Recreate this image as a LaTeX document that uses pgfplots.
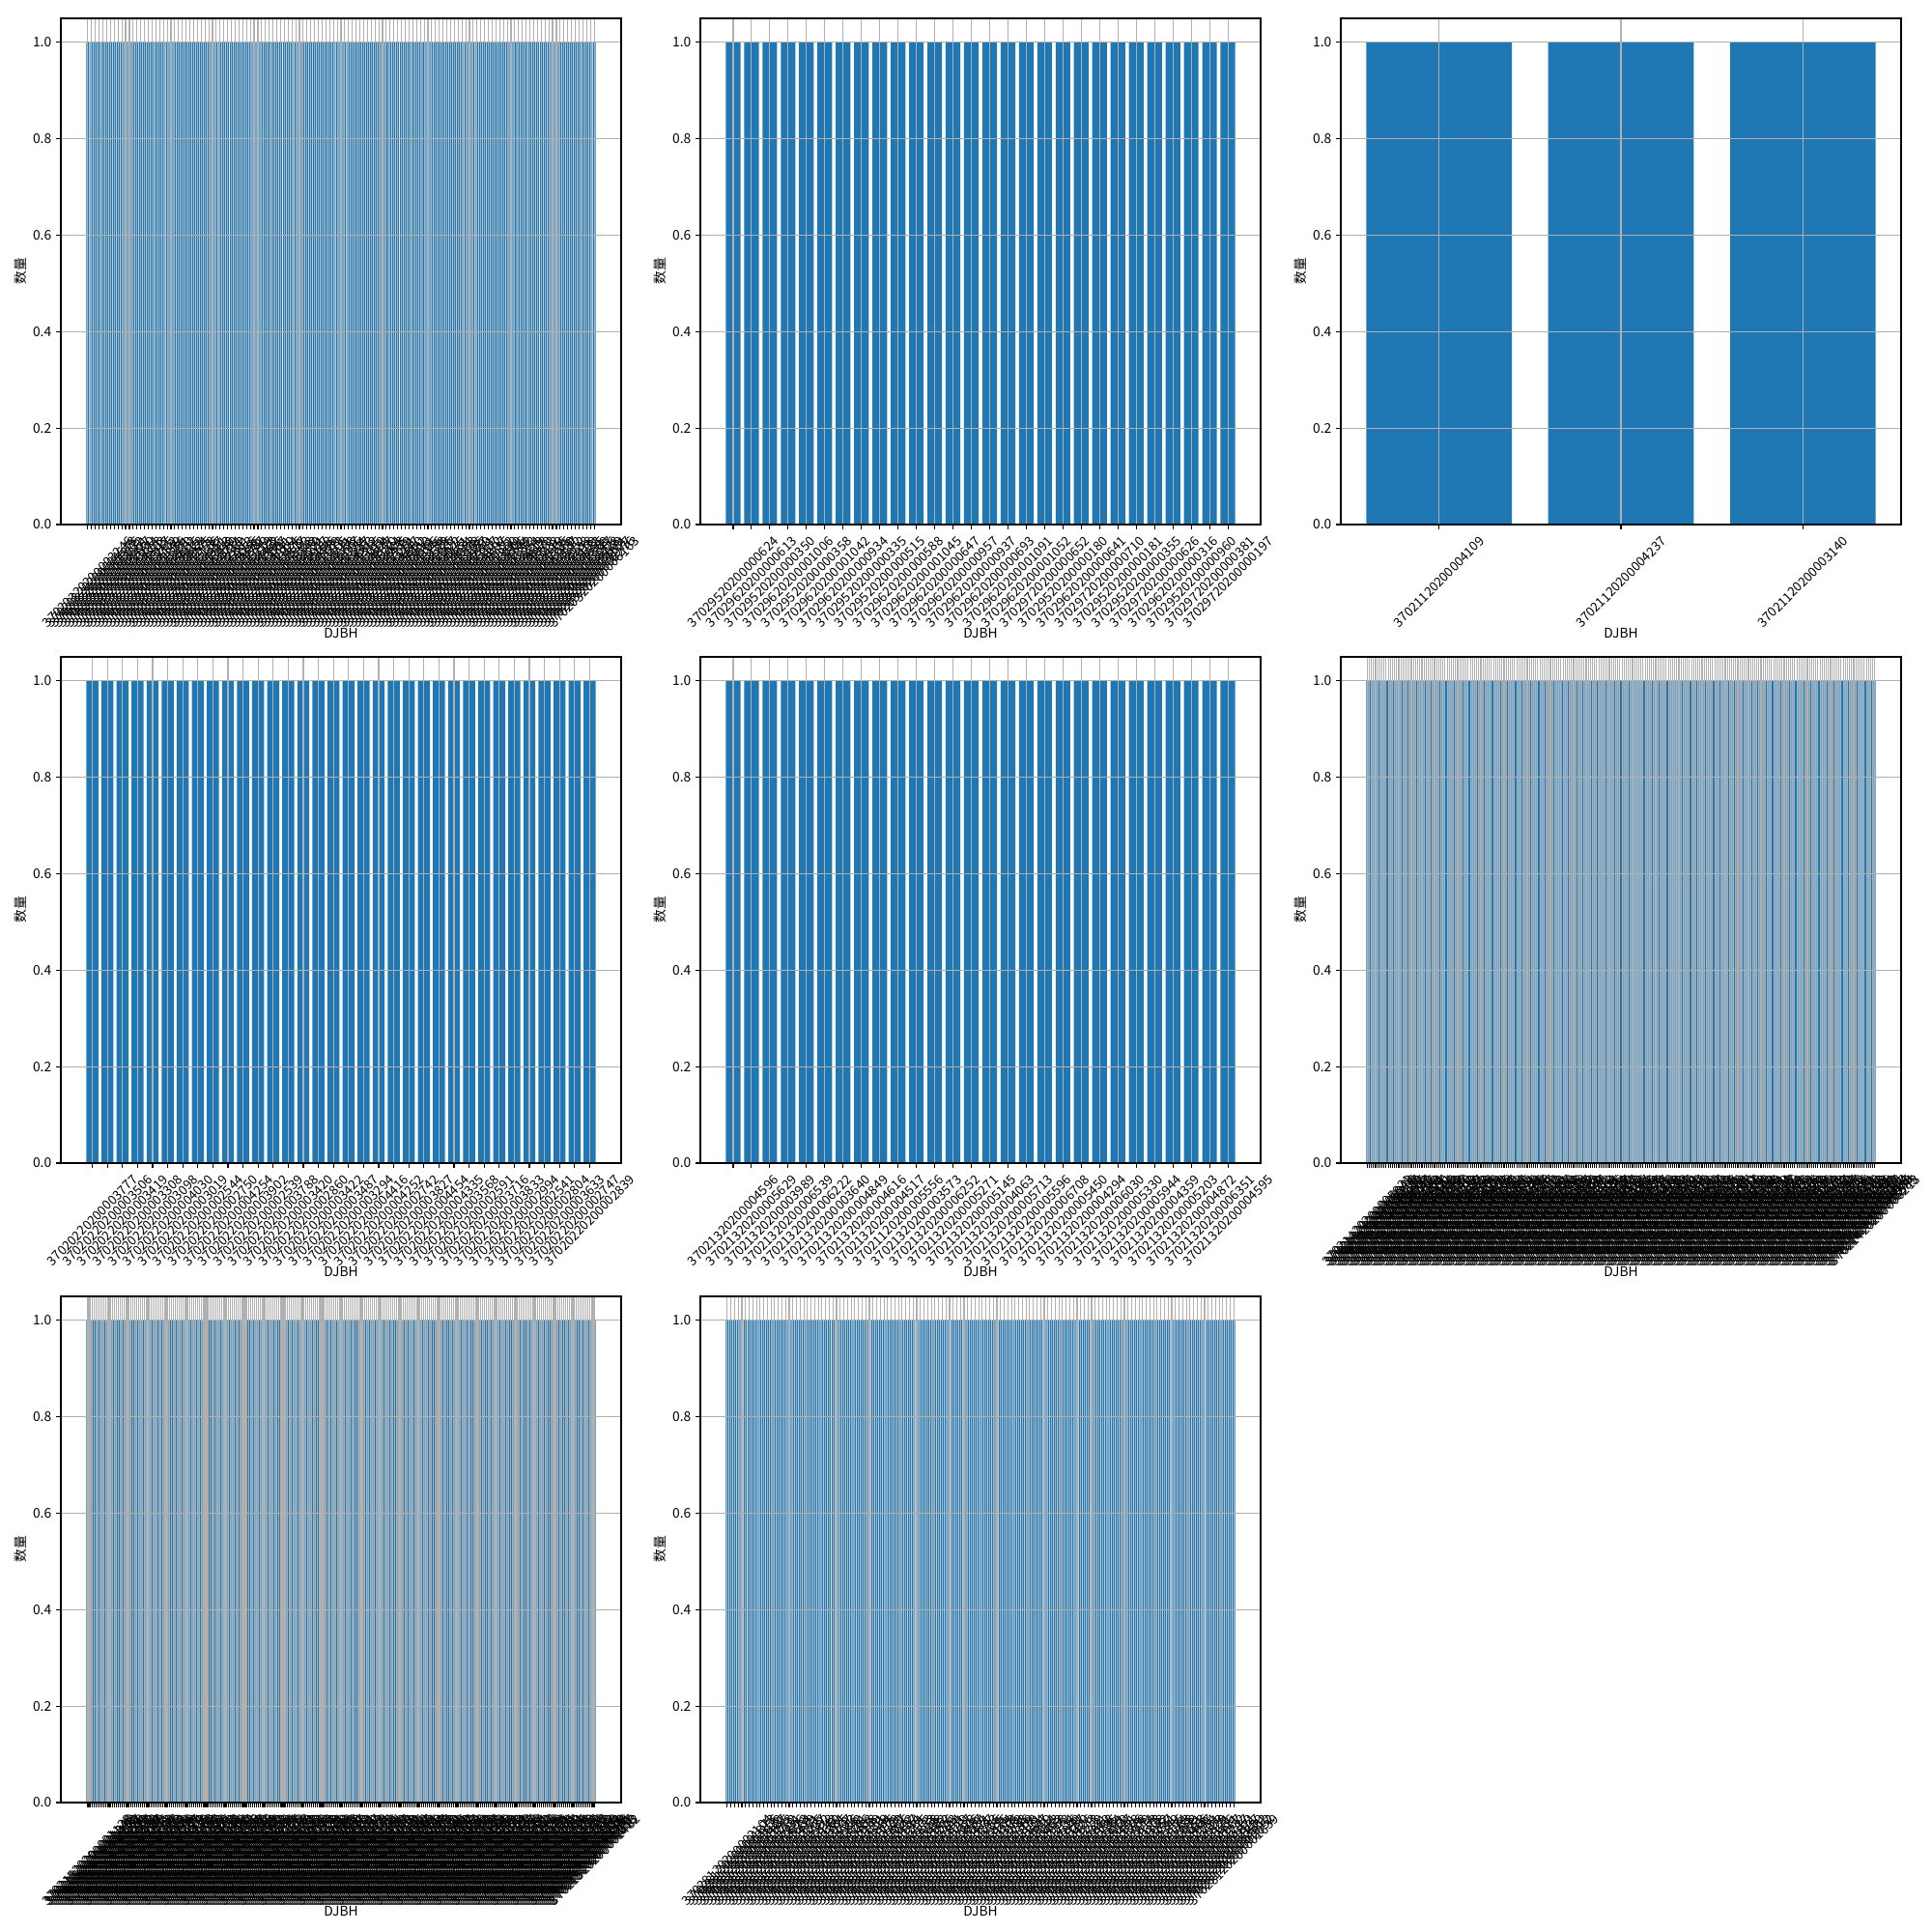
\documentclass[border=0pt]{standalone}
\usepackage{fontspec}
\setmainfont{Noto Sans CJK SC}
\usepackage{pgfplots}
\pgfplotsset{compat=1.18}
\definecolor{mplblue}{HTML}{1F77B4}
\definecolor{mplgrid}{HTML}{B0B0B0}
\def\pa{3702032020000}
\def\pf{3702142020000}
\def\pg{3702152020000}
\def\ph{3702812020000}
\pgfplotsset{
  mpl/.style={
    scale only axis, width=5.8in, height=5.24in,
    ymin=0, ymax=1.05,
    ytick={0,0.2,0.4,0.6,0.8,1.0},
    yticklabels={0.0,0.2,0.4,0.6,0.8,1.0},
    tick align=outside, tick pos=left,
    major tick length=3.5pt,
    tick style={black, line width=0.8pt},
    axis line style={line width=0.8pt},
    xmajorgrids, ymajorgrids,
    major grid style={color=mplgrid, line width=0.8pt},
    axis on top,
    xtick=data,
    ticklabel style={font=\fontsize{10}{12}\selectfont},
    xticklabel style={yshift=-39.5pt, rotate=45, anchor=center, font=\fontsize{9.6}{11}\selectfont},
    every axis x label/.style={at={(axis description cs:0.5,0)}, yshift=-81pt, anchor=center, font=\fontsize{10}{12}\selectfont},
    every axis y label/.style={at={(axis description cs:0,0.5)}, xshift=-30.4pt, rotate=90, anchor=center, font=\fontsize{10}{12}\selectfont},
    xlabel={DJBH}, ylabel={数量},
  },
  mplbar/.style={ybar, bar width=0.8, bar shift=0pt, fill=mplblue, draw=none},
}
\begin{document}
\begin{tikzpicture}
\path[use as bounding box] (0,0) rectangle (20in,20in);
% ---------- 1 ----------
\begin{axis}[mpl, at={(0.63in,14.57in)}, anchor=south west, xmin=-7.14, xmax=141.14,
 xticklabels={\pa3246,\pa4518,\pa2975,\pa5032,\pa3861,\pa4427,\pa2690,\pa5174,\pa3358,\pa4803,
\pa2917,\pa5265,\pa3702,\pa4149,\pa2836,\pa5391,\pa3470,\pa4682,\pa3015,\pa5528,
\pa3924,\pa4275,\pa2758,\pa5106,\pa3637,\pa4951,\pa2863,\pa5440,\pa3189,\pa4714,
\pa3562,\pa2881,\pa5213,\pa4036,\pa3395,\pa4887,\pa2740,\pa5319,\pa3628,\pa4452,
\pa2996,\pa5087,\pa3741,\pa4160,\pa2824,\pa5476,\pa3317,\pa4593,\pa3058,\pa5342,
\pa3839,\pa4221,\pa2917,\pa5158,\pa3486,\pa4769,\pa2673,\pa5405,\pa3211,\pa4538,
\pa3777,\pa4096,\pa2854,\pa5287,\pa3563,\pa4312,\pa2785,\pa5019,\pa3694,\pa4847,
\pa3120,\pa5364,\pa3908,\pa4435,\pa2719,\pa5251,\pa3347,\pa4660,\pa3082,\pa5513,
\pa3861,\pa4195,\pa2946,\pa5138,\pa3529,\pa4726,\pa2807,\pa5422,\pa3275,\pa4581,
\pa3634,\pa4003,\pa2898,\pa5196,\pa3457,\pa4859,\pa2761,\pa5307,\pa3172,\pa4497,
\pa3785,\pa4122,\pa2930,\pa5069,\pa3606,\pa4744,\pa2842,\pa5383,\pa3254,\pa4619,
\pa3518,\pa4070,\pa2893,\pa5232,\pa3419,\pa4906,\pa2735,\pa5460,\pa3137,\pa4572,
\pa3952,\pa4238,\pa2818,\pa5109,\pa3583,\pa4695,\pa2869,\pa5347,\pa3206,\pa4428,
\pa3669,\pa4151,\pa2977,\pa5276,\pa6163}]
\addplot[mplbar] coordinates {
(0,1)(1,1)(2,1)(3,1)(4,1)(5,1)(6,1)(7,1)(8,1)(9,1)
(10,1)(11,1)(12,1)(13,1)(14,1)(15,1)(16,1)(17,1)(18,1)(19,1)
(20,1)(21,1)(22,1)(23,1)(24,1)(25,1)(26,1)(27,1)(28,1)(29,1)
(30,1)(31,1)(32,1)(33,1)(34,1)(35,1)(36,1)(37,1)(38,1)(39,1)
(40,1)(41,1)(42,1)(43,1)(44,1)(45,1)(46,1)(47,1)(48,1)(49,1)
(50,1)(51,1)(52,1)(53,1)(54,1)(55,1)(56,1)(57,1)(58,1)(59,1)
(60,1)(61,1)(62,1)(63,1)(64,1)(65,1)(66,1)(67,1)(68,1)(69,1)
(70,1)(71,1)(72,1)(73,1)(74,1)(75,1)(76,1)(77,1)(78,1)(79,1)
(80,1)(81,1)(82,1)(83,1)(84,1)(85,1)(86,1)(87,1)(88,1)(89,1)
(90,1)(91,1)(92,1)(93,1)(94,1)(95,1)(96,1)(97,1)(98,1)(99,1)
(100,1)(101,1)(102,1)(103,1)(104,1)(105,1)(106,1)(107,1)(108,1)(109,1)
(110,1)(111,1)(112,1)(113,1)(114,1)(115,1)(116,1)(117,1)(118,1)(119,1)
(120,1)(121,1)(122,1)(123,1)(124,1)(125,1)(126,1)(127,1)(128,1)(129,1)
(130,1)(131,1)(132,1)(133,1)(134,1)};
\end{axis}
% ---------- 2 ----------
\begin{axis}[mpl, at={(7.25in,14.57in)}, anchor=south west, xmin=-1.79, xmax=28.79,
 xticklabels={37029520200000624,37029620200000613,37029520200000350,37029620200001006,37029520200000358,37029620200001042,37029620200000934,37029520200000335,37029520200000515,37029620200000588,37029620200001045,37029620200000647,37029620200000957,37029620200000937,37029620200000693,37029620200001091,37029620200001052,37029720200000652,37029520200000180,37029620200000641,37029720200000710,37029520200000181,37029520200000355,37029720200000626,37029620200000316,37029520200000960,37029720200000381,37029720200000197}]
\addplot[mplbar] coordinates {
(0,1)(1,1)(2,1)(3,1)(4,1)(5,1)(6,1)(7,1)(8,1)(9,1)
(10,1)(11,1)(12,1)(13,1)(14,1)(15,1)(16,1)(17,1)(18,1)(19,1)
(20,1)(21,1)(22,1)(23,1)(24,1)(25,1)(26,1)(27,1)};
\end{axis}
% ---------- 3 ----------
\begin{axis}[mpl, at={(13.88in,14.57in)}, anchor=south west, xmin=-0.54, xmax=2.54,
 xticklabels={37021120200004109,37021120200004237,37021120200003140}]
\addplot[mplbar] coordinates {(0,1)(1,1)(2,1)};
\end{axis}
% ---------- 4 ----------
\begin{axis}[mpl, at={(0.63in,7.96in)}, anchor=south west, xmin=-2.09, xmax=35.09,
 xticklabels={37020220200003777,37020220200003506,37020220200003419,37020220200003308,37020220200003098,37020220200004030,37020220200003019,37020220200002544,37020220200002750,37020220200004254,37020220200003902,37020220200002539,37020220200003788,37020220200003420,37020220200002860,37020220200003422,37020220200003487,37020220200003294,37020220200004416,37020220200004252,37020220200002742,37020220200003827,37020220200004454,37020220200004335,37020220200003568,37020220200002591,37020220200003716,37020220200003833,37020220200002994,37020220200002541,37020220200002804,37020220200003633,37020220200002747,37020220200002839}]
\addplot[mplbar] coordinates {
(0,1)(1,1)(2,1)(3,1)(4,1)(5,1)(6,1)(7,1)(8,1)(9,1)
(10,1)(11,1)(12,1)(13,1)(14,1)(15,1)(16,1)(17,1)(18,1)(19,1)
(20,1)(21,1)(22,1)(23,1)(24,1)(25,1)(26,1)(27,1)(28,1)(29,1)
(30,1)(31,1)(32,1)(33,1)};
\end{axis}
% ---------- 5 ----------
\begin{axis}[mpl, at={(7.25in,7.96in)}, anchor=south west, xmin=-1.79, xmax=28.79,
 xticklabels={37021320200004596,37021320200005629,37021320200003989,37021320200006539,37021320200006222,37021320200003640,37021320200004849,37021320200004616,37021320200004517,37021120200005556,37021320200003573,37021320200006252,37021320200005271,37021320200005145,37021320200004063,37021320200005713,37021320200005596,37021320200006708,37021320200005450,37021320200004294,37021320200006030,37021320200005330,37021320200005944,37021320200004359,37021320200005203,37021320200004872,37021320200006351,37021320200004595}]
\addplot[mplbar] coordinates {
(0,1)(1,1)(2,1)(3,1)(4,1)(5,1)(6,1)(7,1)(8,1)(9,1)
(10,1)(11,1)(12,1)(13,1)(14,1)(15,1)(16,1)(17,1)(18,1)(19,1)
(20,1)(21,1)(22,1)(23,1)(24,1)(25,1)(26,1)(27,1)};
\end{axis}
% ---------- 6 ----------
\begin{axis}[mpl, at={(13.88in,7.96in)}, anchor=south west, xmin=-12.49, xmax=253.49,
 xticklabels={\pf5821,\pf6043,\pf5376,\pf6298,\pf5517,\pf6180,\pf5432,\pf6365,\pf5609,\pf6027,
\pf5748,\pf6412,\pf5295,\pf6139,\pf5863,\pf6254,\pf5471,\pf6087,\pf5930,\pf6321,
\pf5384,\pf6196,\pf5652,\pf6473,\pf5219,\pf6058,\pf5795,\pf6337,\pf5546,\pf6112,
\pf5903,\pf6279,\pf5338,\pf6450,\pf5687,\pf6021,\pf5462,\pf6383,\pf5759,\pf6146,
\pf5274,\pf6305,\pf5618,\pf6069,\pf5891,\pf6428,\pf5403,\pf6235,\pf5566,\pf6174,
\pf5837,\pf6392,\pf5251,\pf6013,\pf5704,\pf6287,\pf5489,\pf6156,\pf5972,\pf6341,
\pf5325,\pf6208,\pf5673,\pf6035,\pf5458,\pf6497,\pf5786,\pf6124,\pf5597,\pf6269,
\pf5916,\pf6053,\pf5362,\pf6418,\pf5641,\pf6181,\pf5437,\pf6326,\pf5808,\pf6092,
\pf5283,\pf6245,\pf5725,\pf6376,\pf5514,\pf6107,\pf5869,\pf6438,\pf5396,\pf6163,
\pf5652,\pf6019,\pf5947,\pf6295,\pf5471,\pf6132,\pf5773,\pf6404,\pf5308,\pf6221,
\pf5585,\pf6076,\pf5834,\pf6359,\pf5427,\pf6190,\pf5698,\pf6467,\pf5263,\pf6048,
\pf5912,\pf6313,\pf5546,\pf6137,\pf5781,\pf6252,\pf5405,\pf6089,\pf5629,\pf6386,
\pf5870,\pf6024,\pf5347,\pf6271,\pf5716,\pf6155,\pf5493,\pf6429,\pf5958,\pf6102,
\pf5239,\pf6336,\pf5664,\pf6068,\pf5827,\pf6214,\pf5442,\pf6391,\pf5605,\pf6177,
\pf5893,\pf6045,\pf5318,\pf6283,\pf5751,\pf6129,\pf5486,\pf6452,\pf5937,\pf6006,
\pf5272,\pf6348,\pf5689,\pf6093,\pf5815,\pf6236,\pf5431,\pf6375,\pf5568,\pf6118,
\pf5344,\pf6261,\pf5707,\pf6040,\pf5982,\pf6317,\pf5415,\pf6188,\pf5633,\pf6474,
\pf5226,\pf6082,\pf5859,\pf6303,\pf5498,\pf6145,\pf5762,\pf6421,\pf5371,\pf6029,
\pf5924,\pf6268,\pf5587,\pf6197,\pf5806,\pf6354,\pf5449,\pf6061,\pf5678,\pf6486,
\pf5293,\pf6228,\pf5731,\pf6115,\pf5965,\pf6340,\pf5522,\pf6073,\pf5849,\pf6409,
\pf5316,\pf6172,\pf5694,\pf6259,\pf5478,\pf6011,\pf5903,\pf6362,\pf5557,\pf6140,
\pf5788,\pf6433,\pf5247,\pf6097,\pf5875,\pf6285,\pf5412,\pf6206,\pf5645,\pf6379,
\pf5331,\pf6051,\pf5956,\pf6318,\pf5503,\pf6163,\pf5719,\pf6444,\pf5286,\pf6084,
\pf5842,\pf6243,\pf5467,\pf6126,\pf5611,\pf6397,\pf5354,\pf6037,\pf5989,\pf6274,
\pf5535,\pf6213}]
\addplot[mplbar] coordinates {
(0,1)(1,1)(2,1)(3,1)(4,1)(5,1)(6,1)(7,1)(8,1)(9,1)
(10,1)(11,1)(12,1)(13,1)(14,1)(15,1)(16,1)(17,1)(18,1)(19,1)
(20,1)(21,1)(22,1)(23,1)(24,1)(25,1)(26,1)(27,1)(28,1)(29,1)
(30,1)(31,1)(32,1)(33,1)(34,1)(35,1)(36,1)(37,1)(38,1)(39,1)
(40,1)(41,1)(42,1)(43,1)(44,1)(45,1)(46,1)(47,1)(48,1)(49,1)
(50,1)(51,1)(52,1)(53,1)(54,1)(55,1)(56,1)(57,1)(58,1)(59,1)
(60,1)(61,1)(62,1)(63,1)(64,1)(65,1)(66,1)(67,1)(68,1)(69,1)
(70,1)(71,1)(72,1)(73,1)(74,1)(75,1)(76,1)(77,1)(78,1)(79,1)
(80,1)(81,1)(82,1)(83,1)(84,1)(85,1)(86,1)(87,1)(88,1)(89,1)
(90,1)(91,1)(92,1)(93,1)(94,1)(95,1)(96,1)(97,1)(98,1)(99,1)
(100,1)(101,1)(102,1)(103,1)(104,1)(105,1)(106,1)(107,1)(108,1)(109,1)
(110,1)(111,1)(112,1)(113,1)(114,1)(115,1)(116,1)(117,1)(118,1)(119,1)
(120,1)(121,1)(122,1)(123,1)(124,1)(125,1)(126,1)(127,1)(128,1)(129,1)
(130,1)(131,1)(132,1)(133,1)(134,1)(135,1)(136,1)(137,1)(138,1)(139,1)
(140,1)(141,1)(142,1)(143,1)(144,1)(145,1)(146,1)(147,1)(148,1)(149,1)
(150,1)(151,1)(152,1)(153,1)(154,1)(155,1)(156,1)(157,1)(158,1)(159,1)
(160,1)(161,1)(162,1)(163,1)(164,1)(165,1)(166,1)(167,1)(168,1)(169,1)
(170,1)(171,1)(172,1)(173,1)(174,1)(175,1)(176,1)(177,1)(178,1)(179,1)
(180,1)(181,1)(182,1)(183,1)(184,1)(185,1)(186,1)(187,1)(188,1)(189,1)
(190,1)(191,1)(192,1)(193,1)(194,1)(195,1)(196,1)(197,1)(198,1)(199,1)
(200,1)(201,1)(202,1)(203,1)(204,1)(205,1)(206,1)(207,1)(208,1)(209,1)
(210,1)(211,1)(212,1)(213,1)(214,1)(215,1)(216,1)(217,1)(218,1)(219,1)
(220,1)(221,1)(222,1)(223,1)(224,1)(225,1)(226,1)(227,1)(228,1)(229,1)
(230,1)(231,1)(232,1)(233,1)(234,1)(235,1)(236,1)(237,1)(238,1)(239,1)
(240,1)(241,1)};
\end{axis}
% ---------- 7 ----------
\begin{axis}[mpl, at={(0.63in,1.34in)}, anchor=south west, xmin=-14.24, xmax=290.24,
 xticklabels={\pg1128,\pg1345,\pg1076,\pg1492,\pg1203,\pg1387,\pg1151,\pg1436,\pg1264,\pg1019,
\pg1318,\pg1457,\pg1092,\pg1233,\pg1376,\pg1140,\pg1419,\pg1287,\pg1055,\pg1362,
\pg1196,\pg1471,\pg1113,\pg1248,\pg1394,\pg1037,\pg1325,\pg1168,\pg1483,\pg1214,
\pg1352,\pg1081,\pg1429,\pg1276,\pg1145,\pg1398,\pg1029,\pg1267,\pg1441,\pg1174,
\pg1309,\pg1063,\pg1415,\pg1239,\pg1186,\pg1467,\pg1102,\pg1334,\pg1257,\pg1048,
\pg1383,\pg1129,\pg1476,\pg1220,\pg1356,\pg1071,\pg1402,\pg1293,\pg1158,\pg1437,
\pg1012,\pg1341,\pg1185,\pg1459,\pg1226,\pg1370,\pg1097,\pg1413,\pg1281,\pg1136,
\pg1395,\pg1054,\pg1328,\pg1207,\pg1488,\pg1162,\pg1347,\pg1085,\pg1424,\pg1253,
\pg1119,\pg1366,\pg1040,\pg1302,\pg1193,\pg1452,\pg1235,\pg1379,\pg1108,\pg1446,
\pg1271,\pg1024,\pg1357,\pg1178,\pg1495,\pg1244,\pg1316,\pg1067,\pg1408,\pg1289,
\pg1151,\pg1432,\pg1033,\pg1323,\pg1212,\pg1474,\pg1105,\pg1388,\pg1260,\pg1046,
\pg1373,\pg1191,\pg1463,\pg1229,\pg1339,\pg1078,\pg1421,\pg1298,\pg1143,\pg1404,
\pg1016,\pg1351,\pg1169,\pg1485,\pg1237,\pg1360,\pg1094,\pg1417,\pg1278,\pg1122,
\pg1392,\pg1058,\pg1331,\pg1201,\pg1479,\pg1157,\pg1344,\pg1089,\pg1428,\pg1265,
\pg1134,\pg1371,\pg1045,\pg1312,\pg1188,\pg1456,\pg1241,\pg1385,\pg1111,\pg1449,
\pg1273,\pg1027,\pg1359,\pg1173,\pg1491,\pg1249,\pg1319,\pg1070,\pg1411,\pg1285,
\pg1131,\pg1396,\pg1052,\pg1337,\pg1215,\pg1469,\pg1098,\pg1381,\pg1256,\pg1039,
\pg1364,\pg1182,\pg1447,\pg1223,\pg1305,\pg1074,\pg1433,\pg1292,\pg1149,\pg1410,
\pg1021,\pg1348,\pg1166,\pg1481,\pg1232,\pg1369,\pg1087,\pg1422,\pg1269,\pg1117,
\pg1389,\pg1061,\pg1336,\pg1198,\pg1472,\pg1154,\pg1342,\pg1083,\pg1430,\pg1258,
\pg1127,\pg1374,\pg1049,\pg1315,\pg1184,\pg1461,\pg1246,\pg1382,\pg1114,\pg1443,
\pg1279,\pg1031,\pg1353,\pg1179,\pg1494,\pg1252,\pg1321,\pg1065,\pg1407,\pg1283,
\pg1147,\pg1438,\pg1036,\pg1326,\pg1217,\pg1478,\pg1101,\pg1391,\pg1262,\pg1043,
\pg1377,\pg1195,\pg1466,\pg1225,\pg1335,\pg1079,\pg1426,\pg1296,\pg1141,\pg1401,
\pg1018,\pg1355,\pg1171,\pg1487,\pg1239,\pg1363,\pg1091,\pg1414,\pg1275,\pg1124,
\pg1393,\pg1056,\pg1333,\pg1204,\pg1477,\pg1159,\pg1346,\pg1086,\pg1425,\pg1197,
\pg1302,\pg1068,\pg1419,\pg1243,\pg1156,\pg1384,\pg1032,\pg1471,\pg1218,\pg1340,
\pg1095,\pg1436,\pg1261,\pg1187,\pg1358,\pg1013,\pg1482}]
\addplot[mplbar] coordinates {
(0,1)(1,1)(2,1)(3,1)(4,1)(5,1)(6,1)(7,1)(8,1)(9,1)
(10,1)(11,1)(12,1)(13,1)(14,1)(15,1)(16,1)(17,1)(18,1)(19,1)
(20,1)(21,1)(22,1)(23,1)(24,1)(25,1)(26,1)(27,1)(28,1)(29,1)
(30,1)(31,1)(32,1)(33,1)(34,1)(35,1)(36,1)(37,1)(38,1)(39,1)
(40,1)(41,1)(42,1)(43,1)(44,1)(45,1)(46,1)(47,1)(48,1)(49,1)
(50,1)(51,1)(52,1)(53,1)(54,1)(55,1)(56,1)(57,1)(58,1)(59,1)
(60,1)(61,1)(62,1)(63,1)(64,1)(65,1)(66,1)(67,1)(68,1)(69,1)
(70,1)(71,1)(72,1)(73,1)(74,1)(75,1)(76,1)(77,1)(78,1)(79,1)
(80,1)(81,1)(82,1)(83,1)(84,1)(85,1)(86,1)(87,1)(88,1)(89,1)
(90,1)(91,1)(92,1)(93,1)(94,1)(95,1)(96,1)(97,1)(98,1)(99,1)
(100,1)(101,1)(102,1)(103,1)(104,1)(105,1)(106,1)(107,1)(108,1)(109,1)
(110,1)(111,1)(112,1)(113,1)(114,1)(115,1)(116,1)(117,1)(118,1)(119,1)
(120,1)(121,1)(122,1)(123,1)(124,1)(125,1)(126,1)(127,1)(128,1)(129,1)
(130,1)(131,1)(132,1)(133,1)(134,1)(135,1)(136,1)(137,1)(138,1)(139,1)
(140,1)(141,1)(142,1)(143,1)(144,1)(145,1)(146,1)(147,1)(148,1)(149,1)
(150,1)(151,1)(152,1)(153,1)(154,1)(155,1)(156,1)(157,1)(158,1)(159,1)
(160,1)(161,1)(162,1)(163,1)(164,1)(165,1)(166,1)(167,1)(168,1)(169,1)
(170,1)(171,1)(172,1)(173,1)(174,1)(175,1)(176,1)(177,1)(178,1)(179,1)
(180,1)(181,1)(182,1)(183,1)(184,1)(185,1)(186,1)(187,1)(188,1)(189,1)
(190,1)(191,1)(192,1)(193,1)(194,1)(195,1)(196,1)(197,1)(198,1)(199,1)
(200,1)(201,1)(202,1)(203,1)(204,1)(205,1)(206,1)(207,1)(208,1)(209,1)
(210,1)(211,1)(212,1)(213,1)(214,1)(215,1)(216,1)(217,1)(218,1)(219,1)
(220,1)(221,1)(222,1)(223,1)(224,1)(225,1)(226,1)(227,1)(228,1)(229,1)
(230,1)(231,1)(232,1)(233,1)(234,1)(235,1)(236,1)(237,1)(238,1)(239,1)
(240,1)(241,1)(242,1)(243,1)(244,1)(245,1)(246,1)(247,1)(248,1)(249,1)
(250,1)(251,1)(252,1)(253,1)(254,1)(255,1)(256,1)(257,1)(258,1)(259,1)
(260,1)(261,1)(262,1)(263,1)(264,1)(265,1)(266,1)(267,1)(268,1)(269,1)
(270,1)(271,1)(272,1)(273,1)(274,1)(275,1)(276,1)};
\end{axis}
% ---------- 8 ----------
\begin{axis}[mpl, at={(7.25in,1.34in)}, anchor=south west, xmin=-7.39, xmax=146.39,
 xticklabels={\ph2104,\ph1873,\ph2356,\ph1629,\ph2487,\ph1945,\ph2218,\ph1762,\ph2531,\ph1896,
\ph2073,\ph1684,\ph2419,\ph1951,\ph2265,\ph1737,\ph2592,\ph1818,\ph2142,\ph1669,
\ph2384,\ph1925,\ph2207,\ph1793,\ph2556,\ph1842,\ph2031,\ph1706,\ph2463,\ph1978,
\ph2249,\ph1651,\ph2318,\ph1884,\ph2175,\ph1729,\ph2509,\ph1867,\ph2096,\ph1642,
\ph2437,\ph1914,\ph2281,\ph1775,\ph2573,\ph1833,\ph2058,\ph1698,\ph2402,\ph1962,
\ph2226,\ph1713,\ph2344,\ph1851,\ph2119,\ph1787,\ph2528,\ph1906,\ph2087,\ph1634,
\ph2471,\ph1937,\ph2293,\ph1756,\ph2585,\ph1825,\ph2164,\ph1679,\ph2395,\ph1989,
\ph2238,\ph1746,\ph2369,\ph1878,\ph2131,\ph1804,\ph2547,\ph1919,\ph2044,\ph1663,
\ph2452,\ph1958,\ph2272,\ph1734,\ph2516,\ph1849,\ph2187,\ph1690,\ph2426,\ph1973,
\ph2213,\ph1722,\ph2331,\ph1862,\ph2108,\ph1795,\ph2564,\ph1891,\ph2069,\ph1647,
\ph2441,\ph1928,\ph2306,\ph1768,\ph2579,\ph1814,\ph2153,\ph1673,\ph2378,\ph1982,
\ph2257,\ph1741,\ph2349,\ph1856,\ph2124,\ph1783,\ph2538,\ph1903,\ph2081,\ph1658,
\ph2466,\ph1947,\ph2284,\ph1751,\ph2593,\ph1829,\ph2171,\ph1686,\ph2411,\ph1967,
\ph2232,\ph1717,\ph2362,\ph1871,\ph2137,\ph1809,\ph2552,\ph1912,\ph2052,\ph1639}]
\addplot[mplbar] coordinates {
(0,1)(1,1)(2,1)(3,1)(4,1)(5,1)(6,1)(7,1)(8,1)(9,1)
(10,1)(11,1)(12,1)(13,1)(14,1)(15,1)(16,1)(17,1)(18,1)(19,1)
(20,1)(21,1)(22,1)(23,1)(24,1)(25,1)(26,1)(27,1)(28,1)(29,1)
(30,1)(31,1)(32,1)(33,1)(34,1)(35,1)(36,1)(37,1)(38,1)(39,1)
(40,1)(41,1)(42,1)(43,1)(44,1)(45,1)(46,1)(47,1)(48,1)(49,1)
(50,1)(51,1)(52,1)(53,1)(54,1)(55,1)(56,1)(57,1)(58,1)(59,1)
(60,1)(61,1)(62,1)(63,1)(64,1)(65,1)(66,1)(67,1)(68,1)(69,1)
(70,1)(71,1)(72,1)(73,1)(74,1)(75,1)(76,1)(77,1)(78,1)(79,1)
(80,1)(81,1)(82,1)(83,1)(84,1)(85,1)(86,1)(87,1)(88,1)(89,1)
(90,1)(91,1)(92,1)(93,1)(94,1)(95,1)(96,1)(97,1)(98,1)(99,1)
(100,1)(101,1)(102,1)(103,1)(104,1)(105,1)(106,1)(107,1)(108,1)(109,1)
(110,1)(111,1)(112,1)(113,1)(114,1)(115,1)(116,1)(117,1)(118,1)(119,1)
(120,1)(121,1)(122,1)(123,1)(124,1)(125,1)(126,1)(127,1)(128,1)(129,1)
(130,1)(131,1)(132,1)(133,1)(134,1)(135,1)(136,1)(137,1)(138,1)(139,1)};
\end{axis}
\end{tikzpicture}
\end{document}
